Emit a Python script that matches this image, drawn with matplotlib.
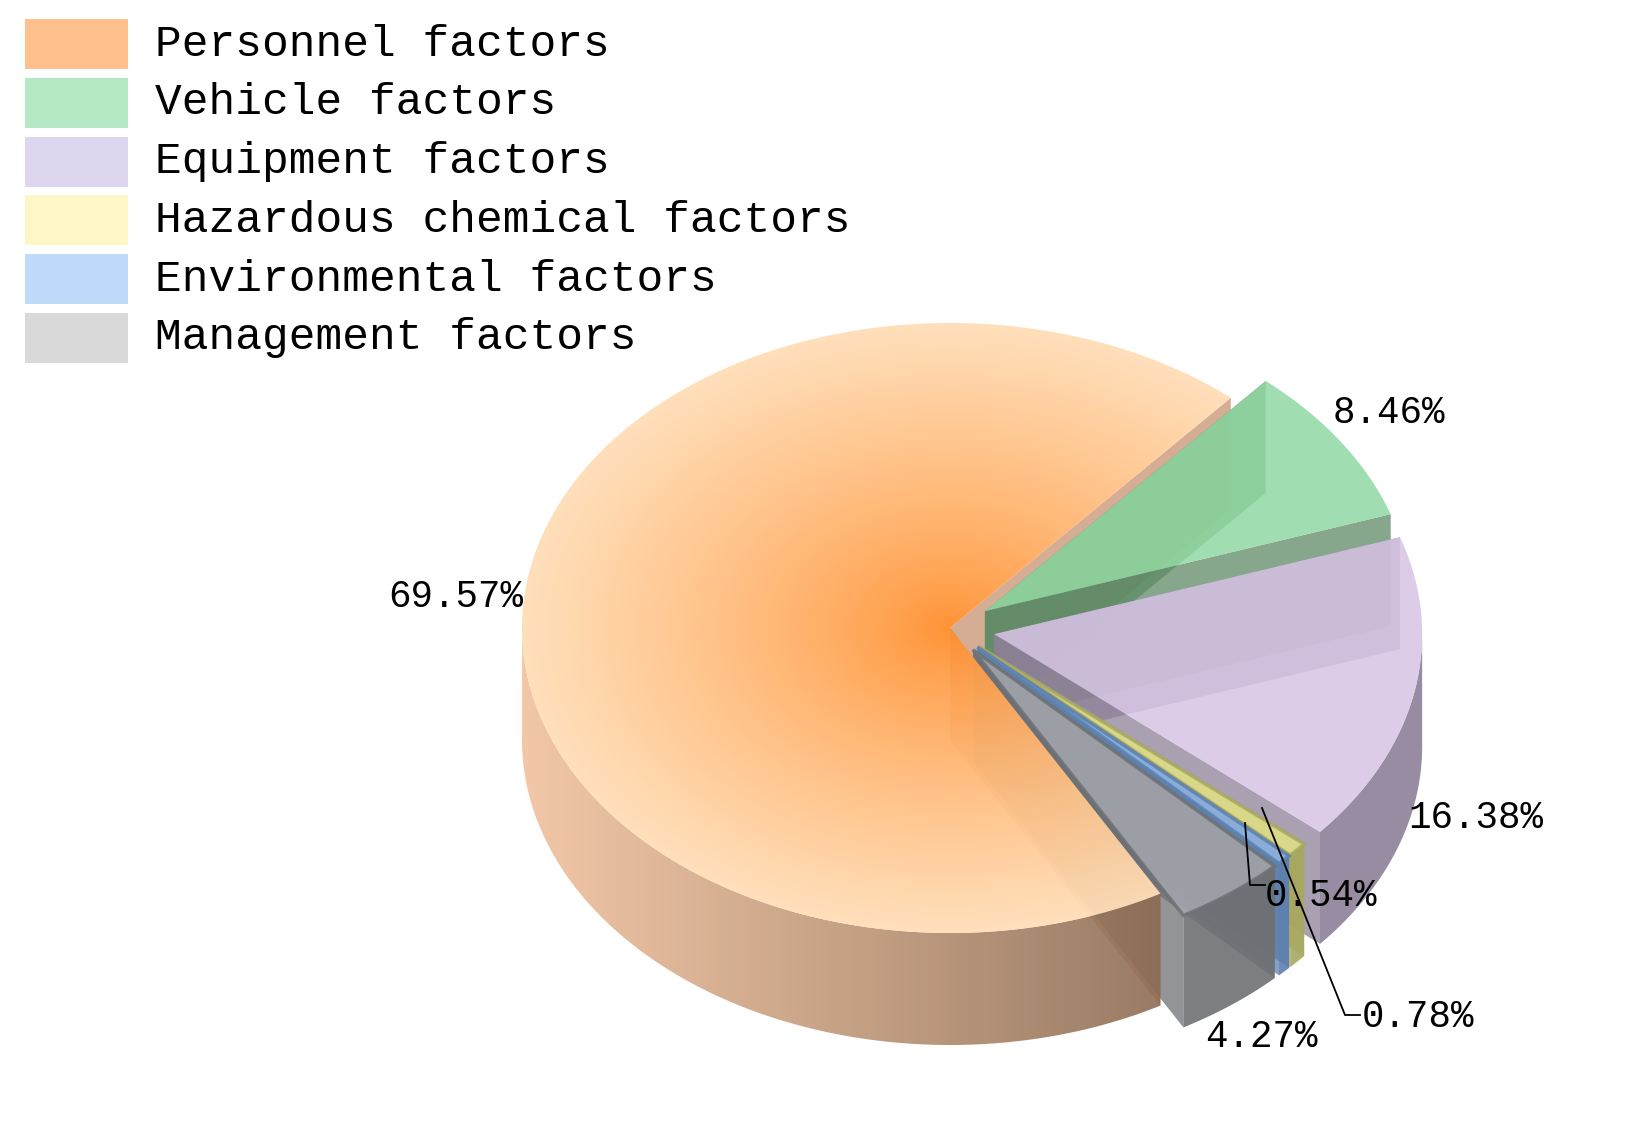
import numpy as np
import matplotlib
matplotlib.use("Agg")
import matplotlib.pyplot as plt
from matplotlib.patches import Polygon, Rectangle

labels = ["Personnel factors", "Vehicle factors", "Equipment factors",
          "Hazardous chemical factors", "Environmental factors", "Management factors"]
values = [69.57, 8.46, 16.38, 0.78, 0.54, 4.27]
pct_text = ["69.57%", "8.46%", "16.38%", "0.78%", "0.54%", "4.27%"]
legend_colors = ["#FFC08E", "#B5E8C5", "#DDD6EE", "#FFF6C8", "#BEDCFA", "#D9D9D9"]
top_colors = ["#FFB070", "#8FD8A2", "#D6C4E4", "#E2E08C", "#8EB4E2", "#A4A6AC"]
side_colors = ["#C89070", "#5E8A66", "#8C8098", "#A8A860", "#5C80B0", "#6E7074"]

plt.rcParams['font.family'] = ['Liberation Mono', 'DejaVu Sans Mono']
fig = plt.figure(figsize=(16.39, 11.34), dpi=100)
ax = fig.add_axes([0, 0, 1, 1])
ax.set_xlim(0, 1639); ax.set_ylim(1134, 0); ax.axis('off')

cx, cy, rx, ry, depth = 950, 628, 428, 305, 112
start = 49.0
# angles: personnel counterclockwise from start; others clockwise from start
angles = []
a = start
ends = []
sweeps = [v / 100 * 360 for v in values]
angles.append((start, start + sweeps[0]))
a = start
for s in sweeps[1:]:
    angles.append((a - s, a))
    a -= s
explode = [0, 42, 45, 38, 38, 38]

def pt(t, ox, oy, dz=0):
    r = np.radians(t)
    return cx + ox + rx*np.cos(r), cy + oy - ry*np.sin(r) + dz

def slice_geom(i):
    t0, t1 = angles[i]
    mid = np.radians((t0 + t1) / 2)
    ox = explode[i]*np.cos(mid); oy = -explode[i]*0.72*np.sin(mid)
    ts = np.linspace(t0, t1, max(4, int((t1 - t0) * 2)))
    return t0, t1, ts, ox, oy

def draw_slice(i):
    t0, t1, ts, ox, oy = slice_geom(i)
    c = (cx + ox, cy + oy)
    # radial walls
    for t in (t0, t1):
        p = pt(t, ox, oy)
        ax.add_patch(Polygon([c, p, (p[0], p[1]+depth), (c[0], c[1]+depth)],
                             closed=True, fc=side_colors[i], ec='none', alpha=0.75, zorder=2+i*0.01))
    # outer front wall
    front = [t for t in ts if np.sin(np.radians(t)) < 0.02]
    if len(front) > 1:
        top = [pt(t, ox, oy) for t in front]
        bot = [pt(t, ox, oy, depth) for t in front[::-1]]
        poly = Polygon(top + bot, closed=True, fc=side_colors[i], ec='none',
                       alpha=0.9 if i else 0.0, zorder=3)
        ax.add_patch(poly)
        if i == 0:
            xs = np.linspace(520, 1380, 300)
            f = np.clip((xs - 520) / (1170 - 520), 0, 1)
            c1 = np.array([0.95, 0.76, 0.62]); c2 = np.array([0.55, 0.42, 0.32])
            img = (c1[None, :]*(1-f[:, None]) + c2[None, :]*f[:, None])[None, :, :]
            im = ax.imshow(img, extent=(520, 1380, 1060, 620), aspect='auto', zorder=3, alpha=0.9)
            im.set_clip_path(poly)
    # top
    toppts = [c] + [pt(t, ox, oy) for t in ts]
    poly = Polygon(toppts, closed=True, fc=top_colors[i], ec=side_colors[i] if i else 'none',
                   lw=2.5 if i in (3, 4, 5) else 0, alpha=0.85 if i else 0.0, zorder=4)
    ax.add_patch(poly)
    if i == 0:
        yy, xx = np.mgrid[0:300, 0:300]
        X = 500 + xx/299*900; Y = 300 + yy/299*660
        r = np.sqrt(((X-cx)/rx)**2 + ((Y-cy)/ry)**2)
        r = np.clip(r, 0, 1)[..., None]
        c1 = np.array([1.0, 0.55, 0.16]); c2 = np.array([1.0, 0.87, 0.72])
        img = c1*(1-r**0.8) + c2*r**0.8
        im = ax.imshow(img, extent=(500, 1400, 960, 300), aspect='auto', zorder=4, alpha=0.95)
        im.set_clip_path(poly)

draw_slice(0)
order = sorted(range(1, 6), key=lambda i: pt((angles[i][0]+angles[i][1])/2, 0, 0)[1])
for i in order:
    draw_slice(i)

fs = 27
tk = dict(fontsize=fs, color='black', zorder=10)
ax.text(388, 597, pct_text[0], va='center', ha='left', **tk)
ax.text(1333, 413, pct_text[1], va='center', ha='left', **tk)
ax.text(1408, 818, pct_text[2], va='center', ha='left', **tk)
ax.text(1362, 1017, pct_text[3], va='center', ha='left', **tk)
ax.text(1265, 896, pct_text[4], va='center', ha='left', **tk)
ax.text(1205, 1037, pct_text[5], va='center', ha='left', **tk)
ax.plot([1245, 1250, 1265], [823, 885, 885], color='black', lw=1.3, zorder=9)
ax.plot([1262, 1345, 1360], [808, 1015, 1015], color='black', lw=1.3, zorder=9)

for k, (lab, col) in enumerate(zip(labels, legend_colors)):
    y = 44 + k*58.8
    ax.add_patch(Rectangle((25, y-25), 103, 50, fc=col, ec='none', zorder=5))
    ax.text(155, y, lab, va='center', ha='left', fontsize=32, color='black', zorder=10)

fig.savefig("out.png", dpi=100)
